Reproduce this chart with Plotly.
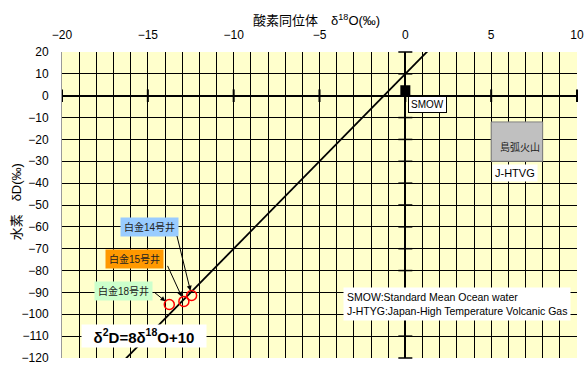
import plotly.graph_objects as go

# Axis ticks
x_ticks = [-20, -15, -10, -5, 0, 5, 10]
y_ticks = [20, 10, 0, -10, -20, -30, -40, -50, -60, -70, -80, -90, -100, -110, -120]

# Hot-spring wells (δ18O, δD)
well_names = ["白金18号井", "白金15号井", "白金14号井"]
well_d18o = [-13.75, -12.9, -12.45]
well_dd = [-95.5, -94.1, -91.4]

# Standard Mean Ocean Water
smow_d18o = [0.0]
smow_dd = [2.5]

# Island-arc volcanic gas (J-HTVG) field
htvg_d18o = [5, 8]
htvg_dd = [-30, -12]

# Meteoric water line  δD = 8 δ18O + 10
mwl_slope = 8
mwl_intercept = 10
mwl_x = [-20, 10]
mwl_y = [mwl_slope * v + mwl_intercept for v in mwl_x]

FONT = "Liberation Sans, Noto Sans CJK JP, sans-serif"

fig = go.Figure()

# meteoric water line
fig.add_trace(go.Scatter(x=mwl_x, y=mwl_y, mode="lines",
                         line=dict(color="black", width=1.8), hoverinfo="skip"))

# tick marks on the zero axes
fig.add_trace(go.Scatter(x=x_ticks, y=[0] * len(x_ticks), mode="markers",
                         marker=dict(symbol="line-ns", size=9, color="black",
                                     line=dict(color="black", width=2)),
                         cliponaxis=False, hoverinfo="skip"))
fig.add_trace(go.Scatter(x=[0] * len(y_ticks), y=y_ticks, mode="markers",
                         marker=dict(symbol="line-ew", size=10, color="black",
                                     line=dict(color="black", width=1.5)),
                         cliponaxis=False, hoverinfo="skip"))

# SMOW
fig.add_trace(go.Scatter(x=smow_d18o, y=smow_dd, mode="markers",
                         marker=dict(symbol="square", size=10, color="black"),
                         hoverinfo="skip"))

# wells
fig.add_trace(go.Scatter(x=well_d18o, y=well_dd, mode="markers",
                         marker=dict(symbol="circle-open", size=10, color="#FF0000",
                                     line=dict(color="#FF0000", width=1.5)),
                         text=well_names, hoverinfo="text"))

# J-HTVG field
fig.add_shape(type="rect", xref="x", yref="y",
              x0=htvg_d18o[0], x1=htvg_d18o[1], y0=htvg_dd[0], y1=htvg_dd[1],
              fillcolor="#C0C0C0", line=dict(color="#808080", width=1), layer="above")

ann = []
# axis titles
ann.append(dict(text="酸素同位体　δ<sup>18</sup>O(‰)", xref="paper", yref="paper",
                x=0.494, y=1.137, showarrow=False, font=dict(size=13, color="black")))
ann.append(dict(text="水素　δD(‰)", xref="paper", yref="paper",
                x=-0.105, y=0.51, textangle=-90, showarrow=False,
                font=dict(size=13, color="black")))

# well labels
label_bg = {"白金14号井": "#99CCFF", "白金15号井": "#FF9900", "白金18号井": "#CCFFCC"}
label_pos = {"白金14号井": (-14.93, -60.1), "白金15号井": (-15.75, -74.9),
             "白金18号井": (-16.42, -89.3)}
arrow_tail = {"白金14号井": (-15, -61), "白金15号井": (-17, -37), "白金18号井": (-16, -13)}
for name, xv, yv in zip(well_names, well_d18o, well_dd):
    lx, ly = label_pos[name]
    ann.append(dict(text=name, x=lx, y=ly, showarrow=False, bgcolor=label_bg[name],
                    borderpad=3, font=dict(size=10, color="#222222")))
    ax, ay = arrow_tail[name]
    ann.append(dict(text="", x=xv, y=yv, ax=ax, ay=ay, showarrow=True,
                    arrowhead=2, arrowsize=1, arrowwidth=1, arrowcolor="black",
                    standoff=5))

# SMOW label
ann.append(dict(text="SMOW", x=1.32, y=-3.8, showarrow=False, bgcolor="white",
                bordercolor="black", borderwidth=1, borderpad=2,
                font=dict(size=10, color="black")))
# volcanic field labels
ann.append(dict(text="島弧火山", x=6.68, y=-23.5, showarrow=False,
                font=dict(size=10, color="#222222")))
ann.append(dict(text="J-HTVG", x=6.39, y=-35.4, showarrow=False, bgcolor="white",
                borderpad=2, font=dict(size=11, color="black")))

# abbreviations
ann.append(dict(text="SMOW:Standard Mean Ocean water<br>J-HTYG:Japan-High Temperature Volcanic Gas",
                x=-3.63, y=-95.1, xanchor="left", align="left", showarrow=False,
                bgcolor="white", borderpad=3, font=dict(size=10.5, color="black")))

# meteoric water line equation
ann.append(dict(text="<b>δ<sup>2</sup>D=8δ<sup>18</sup>O+10</b>", x=-15.22, y=-109.9,
                showarrow=False, bgcolor="white", width=122, height=20,
                font=dict(size=15, color="black")))

fig.update_layout(
    width=585, height=365,
    margin=dict(l=62, r=8, t=52, b=7, autoexpand=False),
    paper_bgcolor="white", plot_bgcolor="#FFFFCC",
    font=dict(family=FONT, size=12, color="black"),
    showlegend=False,
    annotations=ann,
    xaxis=dict(range=[-20, 10], side="top", tickmode="array", tickvals=x_ticks,
               ticks="", ticklabelstandoff=10, automargin=False,
               ticklabeloverflow="allow",
               showgrid=True, gridcolor="black", gridwidth=1,
               minor=dict(dtick=1, tick0=0, showgrid=True, gridcolor="black", gridwidth=1),
               zeroline=True, zerolinecolor="black", zerolinewidth=2,
               showline=False, fixedrange=True),
    yaxis=dict(range=[-120, 20], tickmode="array", tickvals=y_ticks,
               ticks="", ticklabelstandoff=10, automargin=False,
               ticklabeloverflow="allow",
               showgrid=True, gridcolor="black", gridwidth=1,
               zeroline=True, zerolinecolor="black", zerolinewidth=2,
               showline=True, linecolor="#999999", linewidth=1, fixedrange=True),
)

fig.write_html("out.html")
